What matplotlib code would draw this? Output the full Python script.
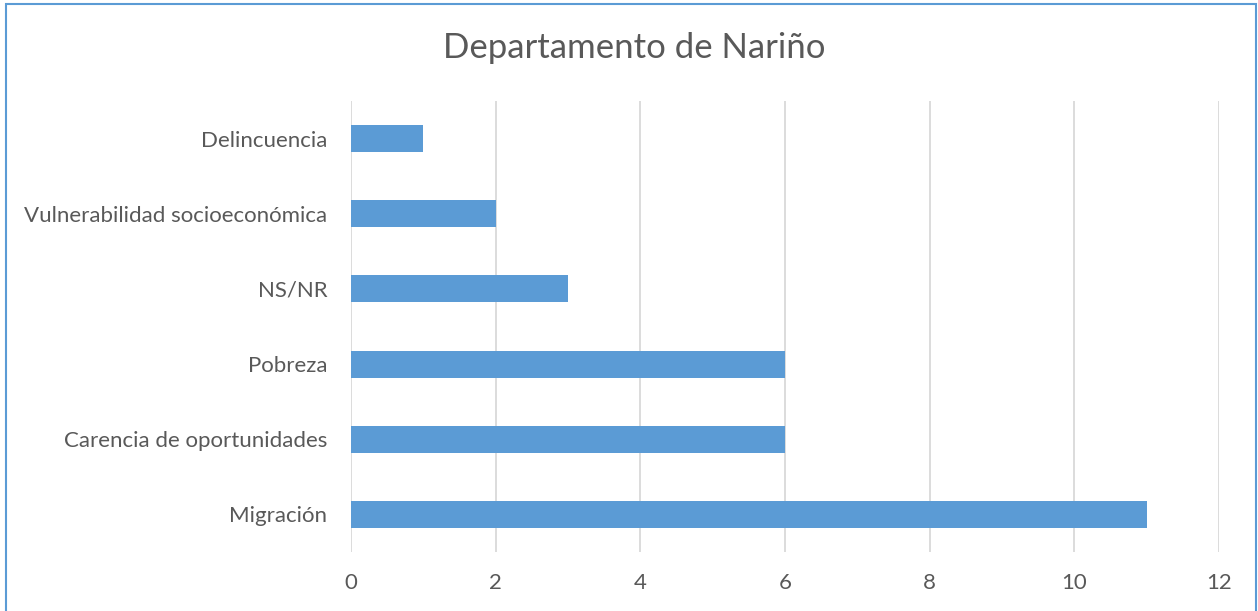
import matplotlib.pyplot as plt
from matplotlib.patches import Rectangle

categories = ["Migración", "Carencia de oportunidades", "Pobreza", "NS/NR",
              "Vulnerabilidad socioeconómica", "Delincuencia"]
values = [11, 6, 6, 3, 2, 1]
xticks = [0, 2, 4, 6, 8, 10, 12]

plt.rcParams["font.family"] = ["Lato", "DejaVu Sans"]
text_color = "#595959"

fig = plt.figure(figsize=(12.58, 6.11), dpi=100)
ax = fig.add_axes([351 / 1258, 59 / 611, 868 / 1258, 451 / 611])

ax.barh(range(len(categories)), values, height=0.36, color="#5B9BD5", zorder=3)

ax.set_xlim(0, 12)
ax.set_ylim(-0.5, len(categories) - 0.5)
ax.set_xticks(xticks)
ax.set_yticks(range(len(categories)))
ax.set_yticklabels(categories)
ax.grid(axis="x", color="#D9D9D9", linewidth=1.3, zorder=0)
for s in ax.spines.values():
    s.set_visible(False)
ax.tick_params(axis="both", length=0, labelsize=16, colors=text_color)
ax.tick_params(axis="y", pad=17)
ax.tick_params(axis="x", pad=15)

fig.text(634 / 1258, 1 - 48 / 611, "Departamento de Nariño", ha="center", va="center",
         fontsize=25, color=text_color)

fig.patches.append(Rectangle((6 / 1258, -0.01), 1250 / 1258, 1 - 4 / 611 + 0.01,
                             transform=fig.transFigure, fill=False,
                             edgecolor="#5B9BD5", linewidth=1.5))

fig.savefig("out.png", dpi=100)
